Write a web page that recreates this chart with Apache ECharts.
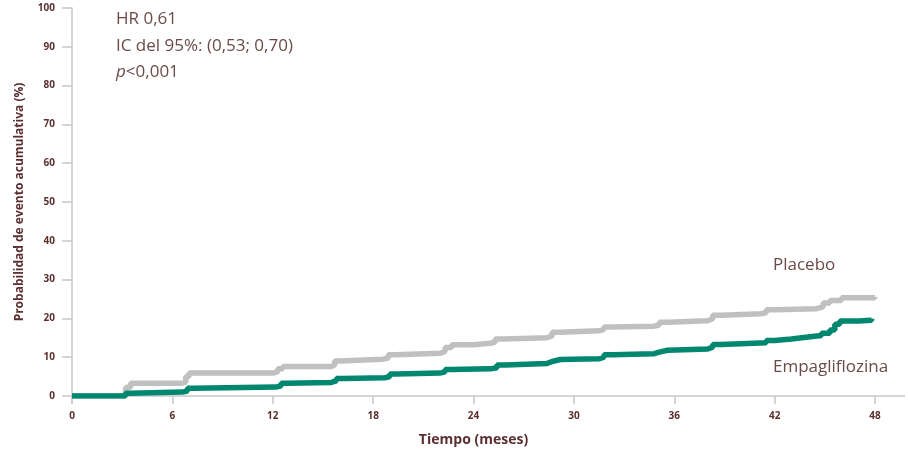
<!DOCTYPE html>
<html>
<head>
<meta charset="utf-8">
<script src="https://cdn.jsdelivr.net/npm/echarts@6/dist/echarts.min.js"></script>
<style>html,body{margin:0;padding:0;background:#fff;overflow:hidden}#c{width:908px;height:449px}</style>
</head>
<body>
<div id="c"></div>
<script>
// Tick labels
const xTicks = [0, 6, 12, 18, 24, 30, 36, 42, 48];
const yTicks = [0, 10, 20, 30, 40, 50, 60, 70, 80, 90, 100];
// Placebo (months, cumulative %)
const placeboT = [0, 3.0, 3.2, 3.5, 6.6, 6.8, 7.0, 12.0, 12.3, 12.6, 15.5, 15.7, 16.0, 18.6, 18.9, 19.3, 22.0, 22.3, 22.7, 24.0, 25.0, 25.3, 25.8, 28.4, 28.7, 29.2, 31.5, 31.8, 32.2, 34.8, 35.1, 35.6, 38.0, 38.3, 38.8, 41.2, 41.5, 42.0, 44.5, 44.9, 45.3, 46.0, 48.0];
const placeboV = [0, 0, 2.2, 3.3, 3.6, 5.0, 5.9, 6.2, 7.0, 7.6, 8.0, 9.0, 9.5, 9.8, 10.6, 11.0, 11.5, 12.5, 13.2, 13.6, 13.9, 14.7, 15.0, 15.5, 16.4, 16.8, 17.2, 17.8, 18.0, 18.3, 19.0, 19.4, 19.9, 20.8, 21.2, 21.5, 22.2, 22.5, 23.0, 24.0, 24.6, 25.3, 25.5];
// Empagliflozina (months, cumulative %)
const empaT = [0, 3.0, 3.2, 3.5, 6.6, 6.9, 7.2, 12.2, 12.5, 12.8, 15.5, 15.8, 16.2, 18.7, 19.0, 19.4, 22.0, 22.3, 22.7, 25.0, 25.4, 25.9, 28.4, 28.7, 29.2, 31.5, 31.8, 32.3, 34.8, 35.1, 35.6, 38.0, 38.3, 38.8, 41.5, 42.0, 43.0, 44.0, 44.8, 45.3, 45.6, 45.9, 47.0, 47.8];
const empaV = [0, 0, 0.7, 1.0, 1.3, 2.0, 2.3, 2.6, 3.3, 3.5, 3.9, 4.5, 4.7, 5.0, 5.7, 5.9, 6.2, 6.8, 7.0, 7.3, 8.0, 8.4, 8.9, 9.4, 9.6, 10.0, 10.6, 10.9, 11.3, 11.8, 12.1, 12.6, 13.3, 13.7, 14.3, 14.7, 15.2, 15.6, 16.2, 17.0, 18.5, 19.3, 19.5, 19.9];

const txt = '#5b2f2f';
const noteColor = '#6b4a4a';
const font = '"Open Sans", "Noto Sans", sans-serif';
const chart = echarts.init(document.getElementById('c'), null, {renderer: 'canvas', width: 908, height: 449});
const pairs = (t, v) => t.map((x, i) => [x, v[i]]);

chart.setOption({
  animation: false,
  backgroundColor: '#fff',
  grid: {left: 72, right: 33, top: 8, bottom: 53, containLabel: false, outerBoundsMode: 'none'},
  xAxis: {
    type: 'value', min: 0, max: 48, interval: 6,
    name: 'Tiempo (meses)', nameLocation: 'middle', nameGap: 37,
    nameTextStyle: {color: txt, fontWeight: 'bold', fontSize: 14, fontFamily: font},
    axisLine: {show: true, lineStyle: {color: '#c8c8c8', width: 1.5}},
    axisTick: {show: true, length: 8, lineStyle: {color: '#c8c8c8', width: 1.5}},
    axisLabel: {color: txt, fontWeight: 'bold', fontSize: 10, margin: 15, fontFamily: font,
      formatter: v => xTicks.includes(v) ? String(v) : ''},
    splitLine: {show: false}
  },
  yAxis: {
    type: 'value', min: 0, max: 100, interval: 10,
    name: 'Probabilidad de evento acumulativa (%)', nameLocation: 'middle', nameGap: 46, nameRotate: 90,
    nameTextStyle: {color: txt, fontWeight: 'bold', fontSize: 12, fontFamily: font},
    axisLine: {show: true, lineStyle: {color: '#c8c8c8', width: 1.5}},
    axisTick: {show: true, length: 10, lineStyle: {color: '#c8c8c8', width: 1.5}},
    axisLabel: {color: txt, fontWeight: 'bold', fontSize: 10, margin: 17, fontFamily: font,
      formatter: v => yTicks.includes(v) ? String(v) : ''},
    splitLine: {show: false}
  },
  series: [
    {name: 'Placebo', type: 'line', step: 'end', showSymbol: false, symbol: 'none',
     data: pairs(placeboT, placeboV), lineStyle: {color: '#c0c0c0', width: 5.5}, z: 2},
    {name: 'Empagliflozina', type: 'line', step: 'end', showSymbol: false, symbol: 'none',
     data: pairs(empaT, empaV), lineStyle: {color: '#00876f', width: 5.5}, z: 3}
  ]
});

const p = chart.convertToPixel({gridIndex: 0}, [48, 0]);
const p0 = chart.convertToPixel({gridIndex: 0}, [0, 0]);
const tf = (s) => ({fill: noteColor, fontSize: 17, fontFamily: font, text: s});
chart.setOption({
  graphic: [
    {id: 'axext', type: 'line', shape: {x1: p[0], y1: p[1], x2: 905, y2: p[1]}, style: {stroke: '#c8c8c8', lineWidth: 1.5}, silent: true},
    {id: 'yext', type: 'line', shape: {x1: p0[0], y1: p0[1], x2: p0[0], y2: p0[1] + 8}, style: {stroke: '#c8c8c8', lineWidth: 1.5}, silent: true},
    {id: 't1', type: 'text', left: 116, top: 11, style: tf('HR 0,61')},
    {id: 't2', type: 'text', left: 116, top: 38, style: tf('IC del 95%: (0,53; 0,70)')},
    {id: 't3', type: 'text', left: 116, top: 64, style: Object.assign(tf('{i|p}<0,001'), {
      rich: {i: {fontStyle: 'italic', fontSize: 17, fontFamily: font, fill: noteColor}}})},
    {id: 't4', type: 'text', left: 773, top: 257, style: tf('Placebo')},
    {id: 't5', type: 'text', left: 773, top: 359, style: tf('Empagliflozina')}
  ]
});
</script>
</body>
</html>
